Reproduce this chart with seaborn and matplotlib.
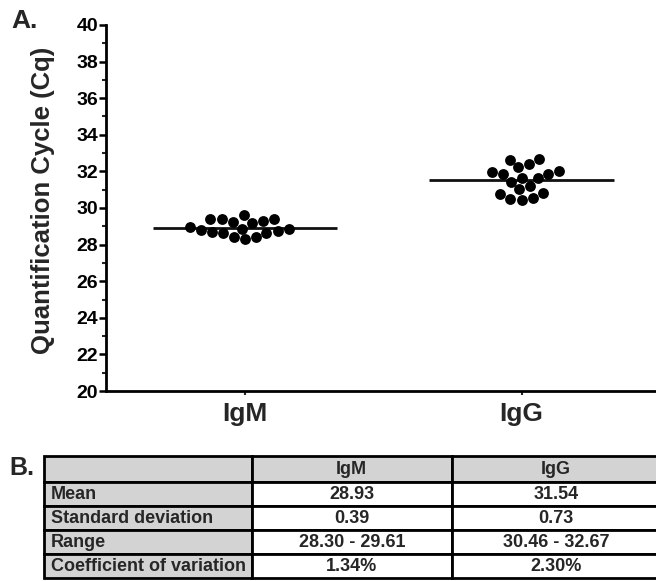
import numpy as np
import pandas as pd
import matplotlib
matplotlib.use("Agg")
import matplotlib.pyplot as plt
import seaborn as sns

# ---- data ----
igm_cq = [28.95, 28.83, 28.74, 29.61, 28.65, 29.38, 28.43, 29.27, 28.30,
          29.23, 28.40, 29.38, 28.65, 29.38, 28.67, 28.80, 28.87, 29.16]
igg_cq = [32.22, 31.22, 31.98, 30.84, 31.86, 32.67, 30.53, 31.66, 32.40,
          30.46, 31.44, 32.62, 30.51, 31.66, 30.78, 31.87, 31.04, 32.04]
groups = ["IgM", "IgG"]
group_means = [28.93, 31.54]

table_cols = ["", "IgM", "IgG"]
row_labels = ["Mean", "Standard deviation", "Range", "Coefficient of variation"]
igm_stats = ["28.93", "0.39", "28.30 - 29.61", "1.34%"]
igg_stats = ["31.54", "0.73", "30.46 - 32.67", "2.30%"]

df = pd.DataFrame({
    "group": ["IgM"] * len(igm_cq) + ["IgG"] * len(igg_cq),
    "cq": igm_cq + igg_cq,
})

sns.set_theme(style="ticks")
plt.rcParams["font.family"] = ["Liberation Sans", "DejaVu Sans"]
plt.rcParams["font.weight"] = "bold"

fig = plt.figure(figsize=(6.56, 5.81), dpi=100)
ax = fig.add_axes([0.162, 0.327, 0.84, 0.63])

sns.swarmplot(data=df, x="group", y="cq", order=groups, color="black",
              size=7.8, ax=ax, linewidth=0)
for i, m in enumerate(group_means):
    ax.hlines(m, i - 0.333, i + 0.333, color="#111111", lw=2, zorder=1)

ax.set_xlim(-0.5, 1.49)
ax.set_ylim(20, 40)
ax.set_yticks(np.arange(20, 41, 2))
ax.set_yticks(np.arange(21, 40, 2), minor=True)
ax.set_xlabel("")
ax.set_ylabel("Quantification Cycle (Cq)", fontsize=18.5, fontweight="bold")
ax.yaxis.set_label_coords(-0.093, 0.52)
ax.tick_params(axis="y", which="major", length=5, width=1.8, labelsize=14, pad=1, colors="black")
ax.tick_params(axis="y", which="minor", length=3, width=1.5)
ax.tick_params(axis="x", length=3, width=1.5, labelsize=19, pad=5)
for lab in ax.get_xticklabels() + ax.get_yticklabels():
    lab.set_fontweight("bold")
for s in ["top", "right"]:
    ax.spines[s].set_visible(False)
for s in ["left", "bottom"]:
    ax.spines[s].set_linewidth(2)
    ax.spines[s].set_color("black")

fig.text(0.018, 0.985, "A.", fontsize=19, fontweight="bold", va="top", ha="left")
fig.text(0.015, 0.215, "B.", fontsize=18, fontweight="bold", va="top", ha="left")

# ---- table ----
tax = fig.add_axes([0.067, 0.005, 0.94, 0.21])
tax.axis("off")
cell_text = [[r, a, b] for r, a, b in zip(row_labels, igm_stats, igg_stats)]
gray = "#d3d3d3"
colours = [[gray, "white", "white"] for _ in row_labels]
tbl = tax.table(cellText=cell_text, colLabels=table_cols, cellColours=colours,
                colColours=[gray, gray, gray], colWidths=[209, 201, 210],
                bbox=[0, 0, 1, 1], cellLoc="center")
tbl.auto_set_font_size(False)
for (r, c), cell in tbl.get_celld().items():
    cell.set_edgecolor("black")
    cell.set_linewidth(2)
    cell.set_height(26 if r == 0 else 24)
    cell.get_text().set_fontsize(13)
    cell.get_text().set_fontweight("bold")
    if c == 0:
        cell.get_text().set_ha("left")
        cell.PAD = 0.035

fig.savefig("out.png", dpi=100)
